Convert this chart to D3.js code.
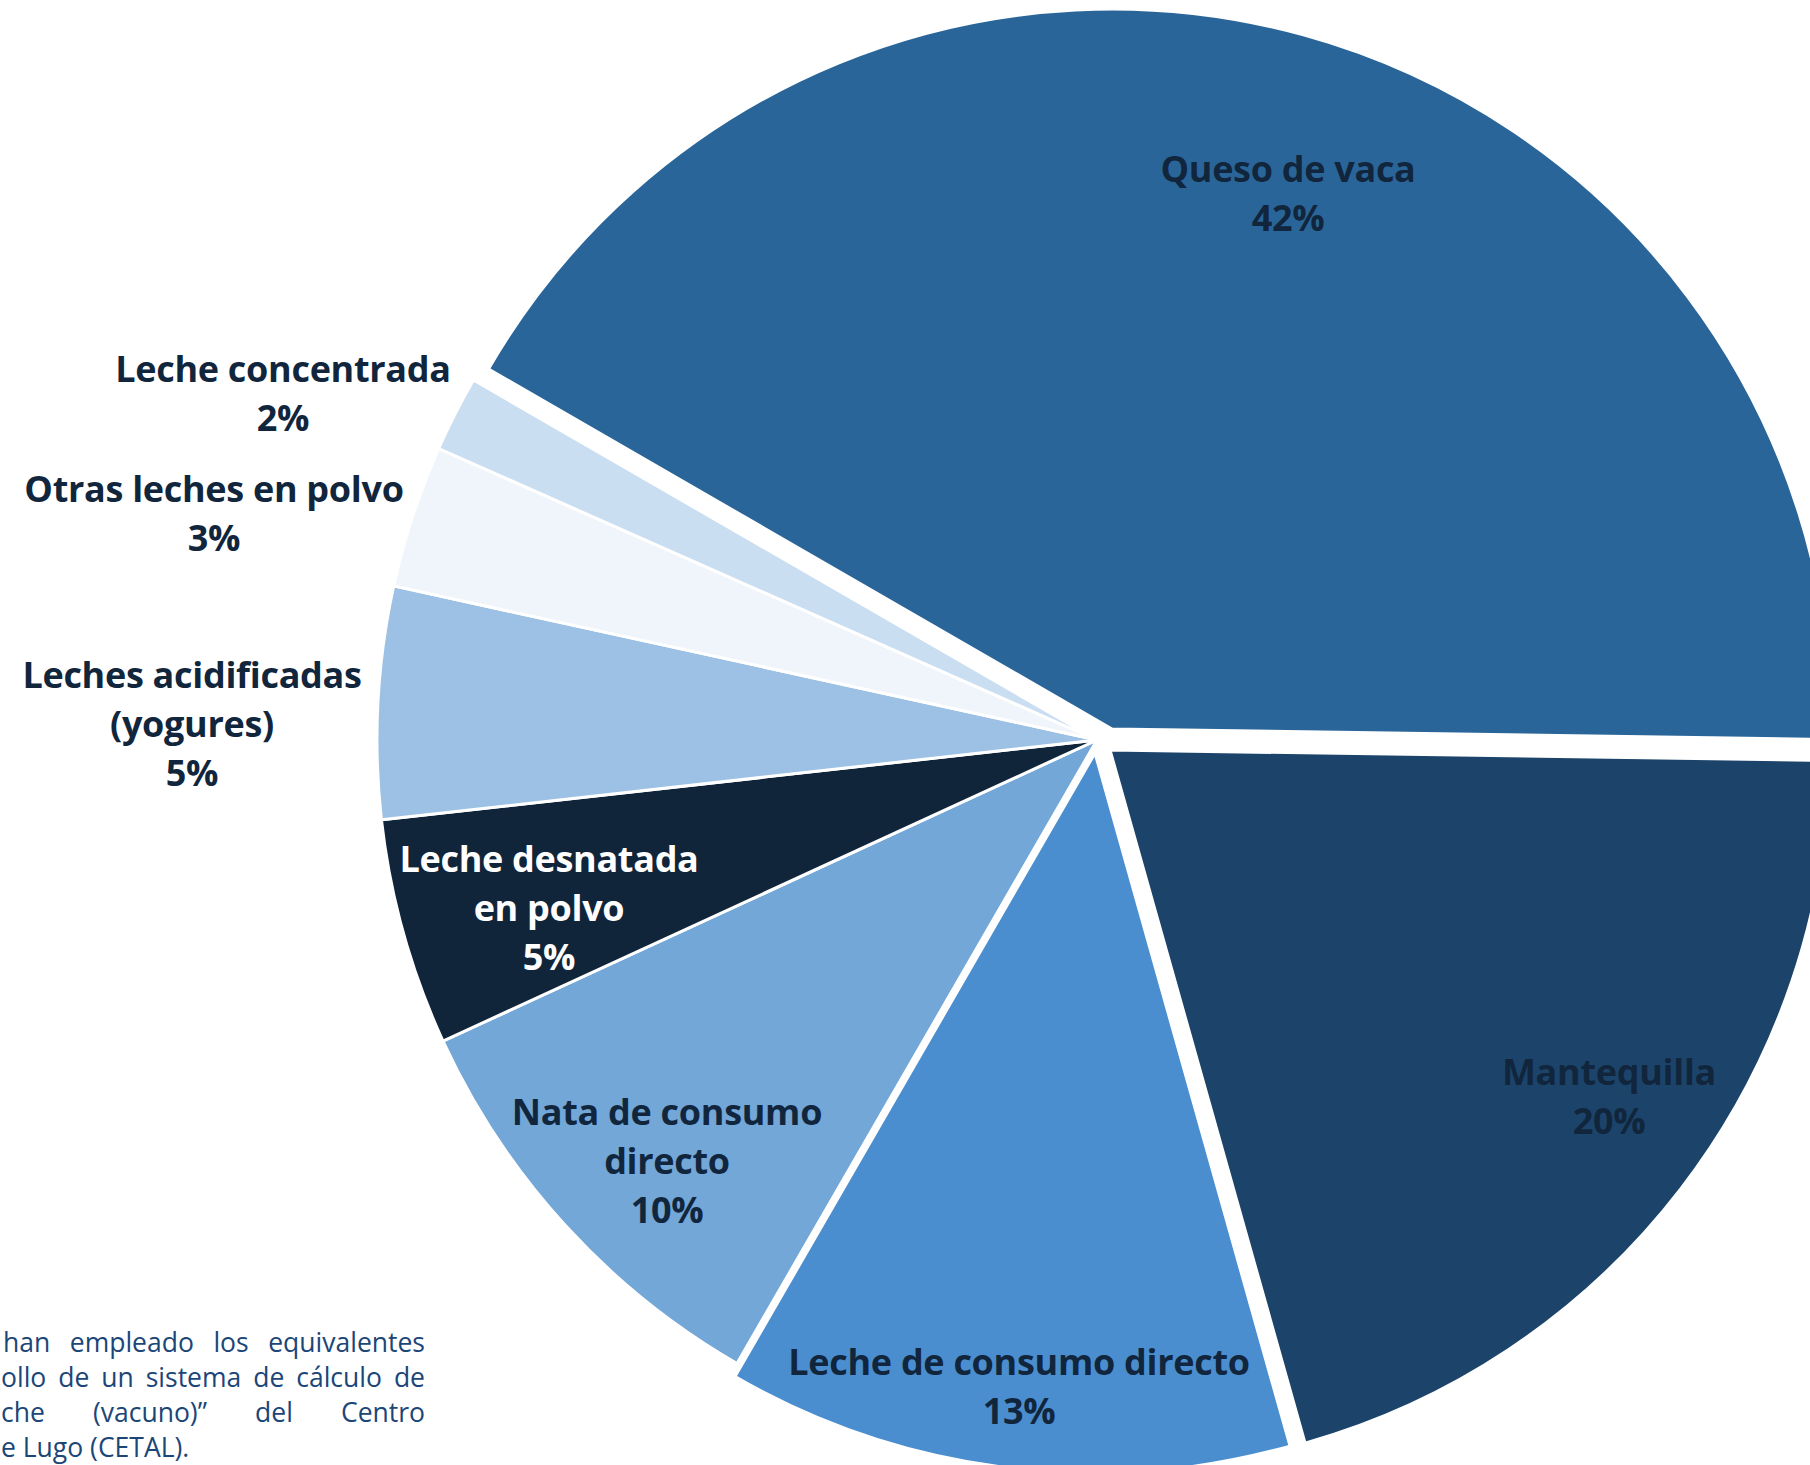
<!DOCTYPE html>
<html>
<head>
<meta charset="utf-8">
<script src="https://cdn.jsdelivr.net/npm/d3@7"></script>
<style>
  html, body { margin: 0; padding: 0; background: #ffffff; overflow: hidden; }
  svg { display: block; }
</style>
</head>
<body>
<svg id="chart" width="1810" height="1465"></svg>
<script>
// ---- data ----
const categories = [
  "Queso de vaca",
  "Mantequilla",
  "Leche de consumo directo",
  "Nata de consumo directo",
  "Leche desnatada en polvo",
  "Leches acidificadas (yogures)",
  "Otras leches en polvo",
  "Leche concentrada"
];
const values = [41.9, 20.4, 12.7, 9.8, 5.1, 5.2, 3.2, 1.7];
const labelLines = [
  ["Queso de vaca"],
  ["Mantequilla"],
  ["Leche de consumo directo"],
  ["Nata de consumo", "directo"],
  ["Leche desnatada", "en polvo"],
  ["Leches acidificadas", "(yogures)"],
  ["Otras leches en polvo"],
  ["Leche concentrada"]
];
const footnoteLines = [
  "han empleado los equivalentes",
  "ollo de un sistema de cálculo de",
  "che (vacuno)” del Centro",
  "e Lugo (CETAL)."
];

// ---- style / layout ----
const colors = ["#2a6599", "#1c446a", "#4a8ecf", "#72a7d8", "#11253a", "#9cc1e4", "#f0f5fb", "#cadef2"];
const labelColors = ["#11263c", "#11263c", "#11263c", "#11263c", "#ffffff", "#11263c", "#11263c", "#11263c"];
// explode offsets (x, y) of each slice
const explode = [[15, -11], [13, 10], [-2, 13], [0, 0], [0, 0], [0, 0], [0, 0], [0, 0]];
const labelAt = [[1288, 182], [1609, 1085], [1019, 1375], [667, 1125], [549, 872], [192, 688], [214, 502], [283, 382]];
const cx = 1097, cy = 740, R = 720;
const lineGap = 49;

const svg = d3.select("#chart");
const deg = Math.PI / 180;

const pie = d3.pie().sort(null).value(d => d)
  .startAngle(-60 * deg).endAngle(300 * deg);
const arcs = pie(values);
const arc = d3.arc().innerRadius(0).outerRadius(R);

const g = svg.append("g").attr("transform", `translate(${cx},${cy})`);
g.selectAll("path.slice")
  .data(arcs)
  .join("path")
  .attr("class", "slice")
  .attr("d", arc)
  .attr("fill", (d, i) => colors[i])
  .attr("stroke", "#ffffff")
  .attr("stroke-width", 3)
  .attr("stroke-linejoin", "miter")
  .attr("transform", (d, i) => `translate(${explode[i][0]},${explode[i][1]})`);

// ---- labels ----
const labFont = "'Open Sans', 'Noto Sans', sans-serif";
arcs.forEach((d, i) => {
  const lines = labelLines[i].concat([Math.round(values[i]) + "%"]);
  const t = svg.append("text")
    .attr("text-anchor", "middle")
    .attr("font-family", labFont)
    .attr("font-weight", 700)
    .attr("font-size", 36)
    .attr("letter-spacing", "-0.3px")
    .attr("fill", labelColors[i]);
  lines.forEach((ln, k) => {
    t.append("tspan")
      .attr("x", labelAt[i][0])
      .attr("y", labelAt[i][1] + k * lineGap)
      .text(ln);
  });
});

// ---- footnote (justified, left part cut off) ----
const fnRight = 425, fnTop = 1352, fnGap = 35;
footnoteLines.forEach((ln, k) => {
  const startX = k === 0 ? 3 : 1;
  const t = svg.append("text")
    .attr("x", startX)
    .attr("y", fnTop + k * fnGap)
    .attr("font-family", "'Open Sans', sans-serif")
    .attr("font-size", 26.5)
    .attr("fill", "#1b4677")
    .text(ln);
  if (k < footnoteLines.length - 1) {
    const w = t.node().getComputedTextLength();
    const spaces = (ln.match(/ /g) || []).length;
    if (spaces > 0) {
      const extra = (fnRight - startX - w) / spaces;
      t.attr("word-spacing", extra + "px");
    }
  }
});
</script>
</body>
</html>
